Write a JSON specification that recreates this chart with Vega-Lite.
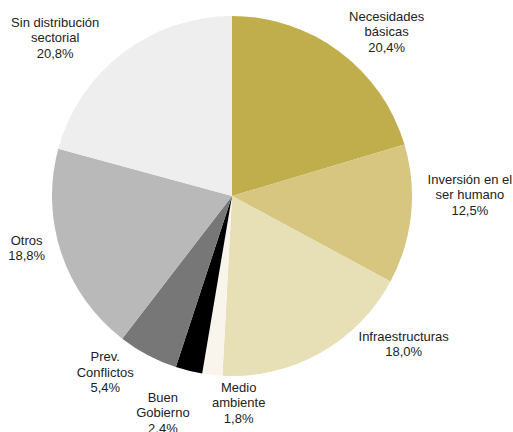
{
  "$schema": "https://vega.github.io/schema/vega-lite/v6.json",
  "width": 464,
  "height": 392,
  "autosize": {"type": "none"},
  "padding": {"left": 0, "top": 0, "right": 49, "bottom": 40},
  "background": "white",
  "config": {"view": {"stroke": null}, "text": {"font": "Liberation Sans", "fontSize": 13, "lineBreak": "\n", "lineHeight": 15.5, "align": "center", "baseline": "middle", "radius": 222}},
  "data": {
    "values": [
      {"order": 1, "sector": "Necesidades básicas", "value": 20.4, "label": "Necesidades\nbásicas\n20,4%"},
      {"order": 2, "sector": "Inversión en el ser humano", "value": 12.5, "label": "Inversión en el\nser humano\n12,5%"},
      {"order": 3, "sector": "Infraestructuras", "value": 18.0, "label": "Infraestructuras\n18,0%"},
      {"order": 4, "sector": "Medio ambiente", "value": 1.8, "label": "Medio\nambiente\n1,8%"},
      {"order": 5, "sector": "Buen Gobierno", "value": 2.4, "label": "Buen\nGobierno\n2.4%"},
      {"order": 6, "sector": "Prev. Conflictos", "value": 5.4, "label": "Prev.\nConflictos\n5,4%"},
      {"order": 7, "sector": "Otros", "value": 18.8, "label": "Otros\n18,8%"},
      {"order": 8, "sector": "Sin distribución sectorial", "value": 20.8, "label": "Sin distribución\nsectorial\n20,8%"}
    ]
  },
  "encoding": {
    "theta": {"field": "value", "type": "quantitative", "stack": true},
    "order": {"field": "order", "type": "quantitative"},
    "color": {
      "field": "sector",
      "type": "nominal",
      "scale": {
        "domain": ["Necesidades básicas", "Inversión en el ser humano", "Infraestructuras", "Medio ambiente", "Buen Gobierno", "Prev. Conflictos", "Otros", "Sin distribución sectorial"],
        "range": ["#c0ae4d", "#d6c680", "#e7dfb5", "#f9f5ec", "#000000", "#777777", "#b9b9b9", "#eeeeee"]
      },
      "legend": null
    }
  },
  "layer": [
    {"mark": {"type": "arc", "outerRadius": 180}},
    {
      "mark": {"type": "text", "dx": 22, "dy": -1},
      "encoding": {"text": {"condition": {"test": "datum.order == 1", "field": "label"}, "value": ""}, "color": {"value": "#222222"}}
    },
    {
      "mark": {"type": "text", "dx": 17, "dy": -39},
      "encoding": {"text": {"condition": {"test": "datum.order == 2", "field": "label"}, "value": ""}, "color": {"value": "#222222"}}
    },
    {
      "mark": {"type": "text", "dx": 63, "dy": -53},
      "encoding": {"text": {"condition": {"test": "datum.order == 3", "field": "label"}, "value": ""}, "color": {"value": "#222222"}}
    },
    {
      "mark": {"type": "text", "dx": 31, "dy": -29},
      "encoding": {"text": {"condition": {"test": "datum.order == 4", "field": "label"}, "value": ""}, "color": {"value": "#222222"}}
    },
    {
      "mark": {"type": "text", "dx": -16, "dy": -14},
      "encoding": {"text": {"condition": {"test": "datum.order == 5", "field": "label"}, "value": ""}, "color": {"value": "#222222"}}
    },
    {
      "mark": {"type": "text", "dx": -23, "dy": -35},
      "encoding": {"text": {"condition": {"test": "datum.order == 6", "field": "label"}, "value": ""}, "color": {"value": "#222222"}}
    },
    {
      "mark": {"type": "text", "dx": 5, "dy": -26},
      "encoding": {"text": {"condition": {"test": "datum.order == 7", "field": "label"}, "value": ""}, "color": {"value": "#222222"}}
    },
    {
      "mark": {"type": "text", "dx": -42, "dy": 3},
      "encoding": {"text": {"condition": {"test": "datum.order == 8", "field": "label"}, "value": ""}, "color": {"value": "#222222"}}
    }
  ]
}
